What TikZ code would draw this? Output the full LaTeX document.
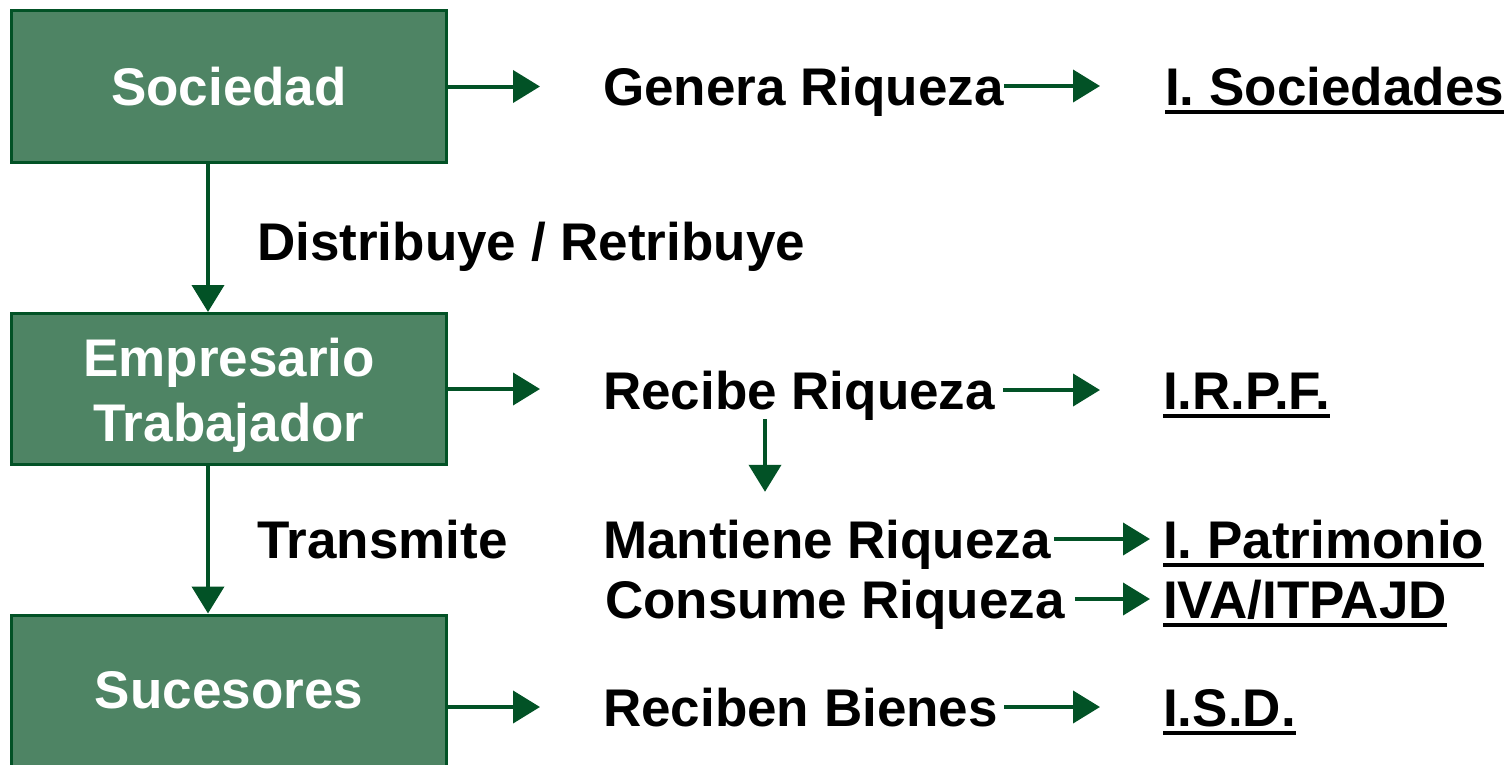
\documentclass[tikz,border=0pt]{standalone}
\usepackage{fontspec}
\setmainfont{Liberation Sans}
\usetikzlibrary{arrows.meta}
\definecolor{boxfill}{RGB}{78,132,100}
\definecolor{dkgreen}{RGB}{2,82,38}
\tikzset{
  box/.style={draw=dkgreen, line width=3bp, fill=boxfill, text=white, minimum width=434bp, minimum height=151bp, inner sep=0, align=center, font=\fontsize{53bp}{65bp}\selectfont\bfseries},
  boxtext/.style={text=white, inner sep=0, align=center, font=\fontsize{53bp}{65bp}\selectfont\bfseries},
  txt/.style={inner sep=0, anchor=west, text height=38bp, text depth=0bp, font=\fontsize{53bp}{65bp}\selectfont\bfseries},
  arr/.style={draw=dkgreen, line width=4bp, -{Triangle[length=27bp,width=32bp]}},
  uline/.style={line width=3.5bp}
}
\begin{document}
\begin{tikzpicture}[x=1bp,y=-1bp]
\useasboundingbox (0,0) rectangle (1508,764);
% boxes
\node[box] (soc) at (229,86.5) {Sociedad};
\node[box] (emp) at (229,389) {};
\node[boxtext] (empt) at (229,395) {Empresario\\Trabajador};
\node[box] (suc) at (229,690.5) {Sucesores};
% texts
\node[txt] (gen) at (603,86) {Genera Riqueza};
\node[txt] (isoc) at (1165,86) {I. Sociedades};
\node[txt] (dist) at (257,241) {Distribuye / Retribuye};
\node[txt] (rec) at (603,390) {Recibe Riqueza};
\node[txt] (irpf) at (1163,390) {I.R.P.F.};
\node[txt] (trans) at (257,539) {Transmite};
\node[txt] (mant) at (603,539) {Mantiene Riqueza};
\node[txt] (ipat) at (1163,539) {I. Patrimonio};
\node[txt] (cons) at (605,599) {Consume Riqueza};
\node[txt] (iva) at (1163,599) {IVA/ITPAJD};
\node[txt] (recb) at (603,707) {Reciben Bienes};
\node[txt] (isd) at (1163,707) {I.S.D.};
% underlines
\foreach \n in {isoc,irpf,ipat,iva,isd}
  \draw[uline] ([yshift=-7bp]\n.south west) -- ([yshift=-7bp]\n.south east);
% vertical arrows
\draw[arr] ([xshift=-21bp]soc.south) -- ([xshift=-21bp]emp.north);
\draw[arr] ([xshift=-21bp]emp.south) -- ([xshift=-21bp]suc.north);
\draw[arr] ([xshift=162bp,yshift=-10bp]rec.south west) -- ([xshift=162bp,yshift=28bp]mant.north west);
% box to text arrows
\draw[arr, shorten >=63bp] (soc.east) -- (soc.east -| gen.west);
\draw[arr, shorten >=63bp] (emp.east) -- (emp.east -| rec.west);
\draw[arr, shorten >=63bp] (suc.east |- recb.west) -- (recb.west);
% text to tax arrows
\draw[arr, shorten >=65bp] (gen.east) -- (isoc.west);
\draw[arr, shorten <=8bp, shorten >=63bp] (rec.east) -- (irpf.west);
\draw[arr, shorten <=3bp, shorten >=13bp] (mant.east) -- (ipat.west);
\draw[arr, shorten <=10bp, shorten >=13bp] (cons.east) -- (iva.west);
\draw[arr, shorten <=6bp, shorten >=63bp] (recb.east) -- (isd.west);
\end{tikzpicture}
\end{document}
